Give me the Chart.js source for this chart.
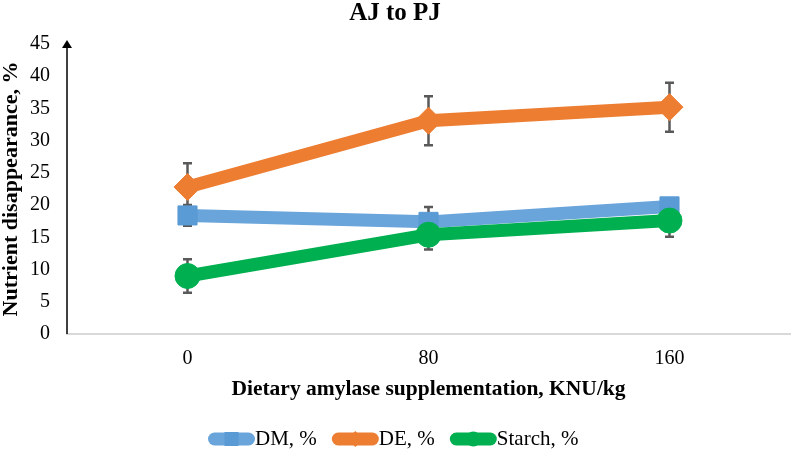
<!DOCTYPE html>
<html>
<head>
<meta charset="utf-8">
<script src="https://cdn.jsdelivr.net/npm/chart.js@4.4.1/dist/chart.umd.min.js"></script>
<style>
  html, body { margin: 0; padding: 0; background: #fff; }
  #wrap { width: 791px; height: 453px; }
</style>
</head>
<body>
<div id="wrap"><canvas id="myChart" width="791" height="453"></canvas></div>
<script>
// data
const categories = ['0', '80', '160'];
const seriesNames = ['DM, %', 'DE, %', 'Starch, %'];
const dmValues = [18.4, 17.4, 19.8];
const deValues = [22.8, 33.1, 35.2];
const starchValues = [9.0, 15.4, 17.6];
const dmErrors = [1.6, 2.3, 1.2];
const deErrors = [3.7, 3.8, 3.8];
const starchErrors = [2.6, 2.3, 2.5];

const serif = "'Liberation Serif', 'Times New Roman', serif";

// error bars drawn under the markers
const errorBars = {
    id: 'errorBars',
    beforeDatasetsDraw(chart) {
        const ctx = chart.ctx;
        const yScale = chart.scales.y;
        ctx.save();
        ctx.strokeStyle = '#595959';
        ctx.lineWidth = 2.5;
        chart.data.datasets.forEach((ds, i) => {
            const meta = chart.getDatasetMeta(i);
            if (!ds.errors) return;
            meta.data.forEach((pt, j) => {
                const v = ds.data[j];
                const e = ds.errors[j];
                const top = yScale.getPixelForValue(v + e);
                const bottom = yScale.getPixelForValue(v - e);
                ctx.beginPath();
                ctx.moveTo(pt.x, top);
                ctx.lineTo(pt.x, bottom);
                ctx.moveTo(pt.x - 4.5, top);
                ctx.lineTo(pt.x + 4.5, top);
                ctx.moveTo(pt.x - 4.5, bottom);
                ctx.lineTo(pt.x + 4.5, bottom);
                ctx.stroke();
            });
        });
        ctx.restore();
    }
};

// black y axis with an arrow head on top
const yArrow = {
    id: 'yArrow',
    afterDraw(chart) {
        const ctx = chart.ctx;
        const area = chart.chartArea;
        const x = area.left;
        ctx.save();
        ctx.strokeStyle = '#000';
        ctx.fillStyle = '#000';
        ctx.lineWidth = 1.5;
        ctx.beginPath();
        ctx.moveTo(x, area.bottom);
        ctx.lineTo(x, area.top - 2);
        ctx.stroke();
        ctx.beginPath();
        ctx.moveTo(x, area.top - 4);
        ctx.lineTo(x - 5, area.top + 4);
        ctx.lineTo(x + 5, area.top + 4);
        ctx.closePath();
        ctx.fill();
        ctx.restore();
    }
};

// excel-like legend: thick line with the marker in the middle, text right after
const lineLegend = {
    id: 'lineLegend',
    afterDraw(chart) {
        const ctx = chart.ctx;
        const boxW = 47, boxH = 13, gap = 15;
        ctx.save();
        ctx.font = '21px ' + serif;
        ctx.textBaseline = 'middle';
        const items = chart.data.datasets.map(ds => ({
            ds,
            textW: ctx.measureText(ds.label).width
        }));
        const total = items.reduce((s, it) => s + boxW + it.textW, 0) + gap * (items.length - 1);
        let x = Math.round(393 - total / 2);
        const y = 439;
        items.forEach(({ ds, textW }) => {
            ctx.fillStyle = ds.borderColor;
            ctx.beginPath();
            ctx.roundRect(x, y - boxH / 2, boxW, boxH, boxH / 2);
            ctx.fill();
            ctx.fillStyle = ds.pointBackgroundColor;
            const cx = x + boxW / 2;
            ctx.beginPath();
            if (ds.pointStyle === 'rect') {
                ctx.rect(cx - 7, y - 7, 14, 14);
            } else if (ds.pointStyle === 'rectRot') {
                ctx.moveTo(cx, y - 8);
                ctx.lineTo(cx + 8, y);
                ctx.lineTo(cx, y + 8);
                ctx.lineTo(cx - 8, y);
                ctx.closePath();
            } else {
                ctx.arc(cx, y, 7.5, 0, Math.PI * 2);
            }
            ctx.fill();
            ctx.fillStyle = '#000';
            ctx.fillText(ds.label, x + boxW, y);
            x += boxW + textW + gap;
        });
        ctx.restore();
    }
};

new Chart(document.getElementById('myChart'), {
    type: 'line',
    data: {
        labels: categories,
        datasets: [
            {
                label: seriesNames[0],
                data: dmValues,
                errors: dmErrors,
                borderColor: '#69a4db',
                backgroundColor: '#5B9BD5',
                pointBackgroundColor: '#5B9BD5',
                pointBorderColor: '#5B9BD5',
                borderWidth: 13,
                pointBorderWidth: 1,
                pointStyle: 'rect',
                pointRadius: 13.5,
                order: 3
            },
            {
                label: seriesNames[1],
                data: deValues,
                errors: deErrors,
                borderColor: '#ED7D31',
                backgroundColor: '#ED7D31',
                pointBackgroundColor: '#ED7D31',
                pointBorderColor: '#ED7D31',
                borderWidth: 13,
                pointBorderWidth: 1,
                pointStyle: 'rectRot',
                pointRadius: 13.5,
                order: 2
            },
            {
                label: seriesNames[2],
                data: starchValues,
                errors: starchErrors,
                borderColor: '#00B050',
                backgroundColor: '#00B050',
                pointBackgroundColor: '#00B050',
                pointBorderColor: '#00B050',
                borderWidth: 13,
                pointBorderWidth: 1,
                pointStyle: 'circle',
                pointRadius: 12.5,
                order: 1
            }
        ]
    },
    options: {
        responsive: false,
        animation: false,
        layout: { autoPadding: false, padding: { left: 0, right: 1, top: 0, bottom: 51 } },
        plugins: {
            title: {
                display: true,
                text: 'AJ to PJ',
                color: '#000',
                font: { family: serif, size: 25, weight: 'bold' },
                padding: { top: -1, bottom: 15 }
            },
            legend: { display: false },
            tooltip: { enabled: false }
        },
        scales: {
            x: {
                offset: true,
                grid: { display: false, drawTicks: false },
                border: { display: true, color: '#d9d9d9', width: 2 },
                ticks: {
                    color: '#000',
                    font: { family: serif, size: 20 },
                    padding: 13
                },
                title: {
                    display: true,
                    text: 'Dietary amylase supplementation, KNU/kg',
                    color: '#000',
                    font: { family: serif, size: 21.5, weight: 'bold' },
                    padding: { top: 0, bottom: 0 }
                },
                afterFit(scale) { scale.height = 68; }
            },
            y: {
                min: 0,
                max: 45,
                grid: { display: false, drawTicks: false },
                border: { display: false },
                ticks: {
                    stepSize: 5,
                    color: '#000',
                    font: { family: serif, size: 20 },
                    padding: 17
                },
                title: {
                    display: true,
                    text: 'Nutrient disappearance, %',
                    color: '#000',
                    font: { family: serif, size: 22, weight: 'bold' },
                    padding: { top: -2, bottom: 0 }
                },
                afterFit(scale) { scale.width = 67; }
            }
        }
    },
    plugins: [errorBars, yArrow, lineLegend]
});
</script>
</body>
</html>
